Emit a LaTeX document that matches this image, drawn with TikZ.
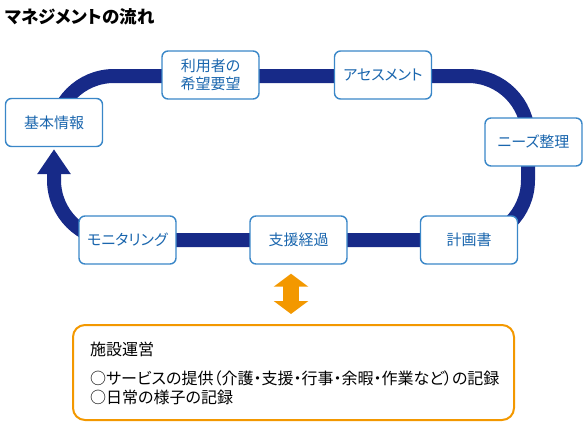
\documentclass[tikz,border=0pt]{standalone}
\usepackage{fontspec}
\setmainfont{Noto Sans CJK JP}[RawFeature=+palt]
\usetikzlibrary{positioning,arrows.meta,backgrounds}
\definecolor{loopnavy}{HTML}{172A88}
\definecolor{boxblue}{HTML}{3A87C8}
\definecolor{txtblue}{HTML}{1A66AE}
\definecolor{keyorange}{HTML}{F39800}

\begin{document}
\begin{tikzpicture}[
    x=1pt, y=-1pt,
    stage/.style={draw=boxblue, line width=1.4pt, fill=white, rounded corners=6pt, minimum width=97pt, minimum height=48pt, inner sep=0pt, text=txtblue, font=\fontsize{15}{18}\selectfont, align=center},
    band/.style={draw=loopnavy, line width=14pt, rounded corners=60pt},
    twoway/.style={draw=keyorange, line width=16pt, {Triangle[width=34pt,length=13pt]}-{Triangle[width=34pt,length=13pt]}},
    panel/.style={draw=keyorange, line width=2pt, rounded corners=12pt, minimum width=441pt, minimum height=95pt},
    memo/.style={anchor=west, inner sep=0pt, font=\fontsize{16}{16}\selectfont}
]
    \useasboundingbox (0,0) rectangle (584,423);
    \node[anchor=west, inner sep=0pt, font=\fontsize{17.5}{18}\selectfont\bfseries] (title) at (5,17) {マネジメントの流れ};

    % cycle steps
    \node[stage] (kihon) at (54,122.5) {基本情報};
    \node[stage] (riyou) at (210.5,75) {利用者の\\希望要望};
    \node[stage] (asesu) at (383,75) {アセスメント};
    \node[stage] (needs) at (533.5,142) {ニーズ整理};
    \node[stage] (keikaku) at (469,240) {計画書};
    \node[stage] (shien) at (298.5,240) {支援経過};
    \node[stage] (moni) at (127.5,240) {モニタリング};

    \begin{scope}[on background layer]
        \draw[band, -{Triangle[width=32pt,length=25pt]}] (54,140) -- (54,76) -- (528,76) -- (528,240) -- (54,240) -- ([yshift=-2pt]kihon.south);
    \end{scope}

    % facility records
    \node[panel] (unei) at (293.5,372.5) {};
    \node[memo] (uneihead) at (90,349) {施設運営};
    \node[memo] (rec1) at (90,378) {○サービスの提供（介護・支援・行事・余暇・作業など）の記録};
    \node[memo] (rec2) at (90,397) {○日常の様子の記録};

    \draw[twoway] ([xshift=-7.5pt,yshift=-9pt]shien.south) -- ([xshift=-2.5pt,yshift=10pt]unei.north);
\end{tikzpicture}
\end{document}
